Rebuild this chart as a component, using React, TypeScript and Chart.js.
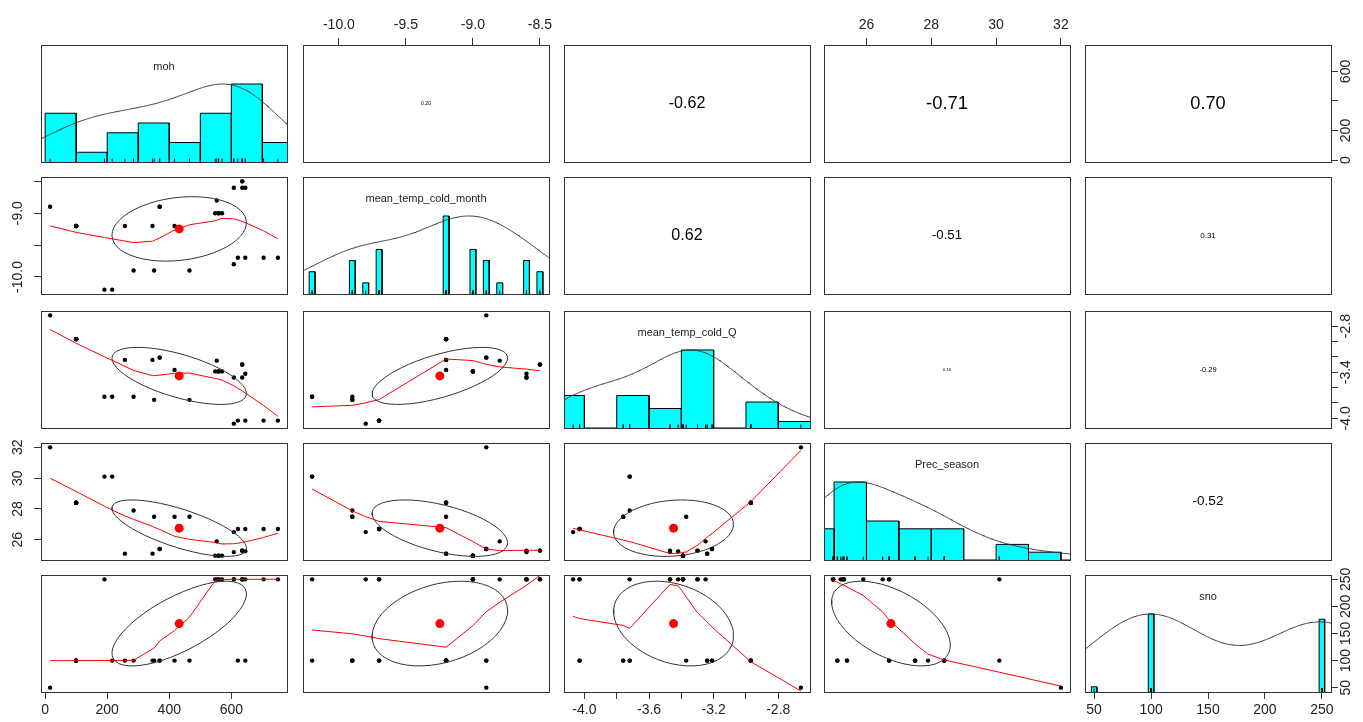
import React, { useEffect, useRef } from 'react';
import { Chart, registerables } from 'chart.js';

Chart.register(...registerables);

// ---------------- Data: 30 observations ----------------
const variableNames = ['moh', 'mean_temp_cold_month', 'mean_temp_cold_Q', 'Prec_season', 'sno'];

const moh = [16, 100, 100, 100, 100, 191, 216, 257, 285, 346, 351, 369, 369, 417, 465, 548, 559, 559, 570, 553, 608, 608, 621, 635, 635, 635, 645, 645, 704, 750];
const meanTempColdMonth = [-8.9, -9.2, -9.2, -9.2, -9.2, -10.2, -10.2, -9.2, -9.9, -9.2, -9.9, -8.9, -8.9, -9.2, -9.9, -9.0, -9.0, -9.0, -9.0, -8.8, -9.8, -8.6, -9.7, -8.5, -8.5, -8.6, -8.6, -9.7, -9.7, -9.7];
const meanTempColdQ = [-2.66, -2.97, -2.97, -2.97, -2.97, -3.72, -3.72, -3.24, -3.72, -3.24, -3.76, -3.21, -3.21, -3.37, -3.76, -3.39, -3.39, -3.39, -3.39, -3.25, -4.07, -3.47, -4.03, -3.3, -3.3, -3.47, -3.42, -4.03, -4.03, -4.03];
const precSeason = [32.0, 28.4, 28.4, 28.4, 28.4, 30.1, 30.1, 25.1, 27.9, 25.1, 27.5, 25.4, 25.4, 27.5, 27.5, 24.97, 24.97, 24.97, 24.97, 25.9, 26.5, 25.2, 26.7, 25.3, 25.3, 25.3, 25.25, 26.7, 26.7, 26.7];
const sno = [50, 100, 100, 100, 100, 250, 100, 100, 100, 100, 100, 100, 100, 100, 100, 250, 250, 250, 250, 250, 250, 250, 100, 250, 250, 250, 250, 100, 250, 250];

// histogram breaks (Sturges / pretty)
const mohBreaks = [0, 100, 200, 300, 400, 500, 600, 700, 800];
const mtcqBreaks = [-4.2, -4.0, -3.8, -3.6, -3.4, -3.2, -3.0, -2.8, -2.6];
const precBreaks = [24, 25, 26, 27, 28, 29, 30, 31, 32, 33];

// axis ticks and the labels that are printed
const mohTicks = [0, 200, 400, 600];
const mtcmTicks = [-10, -9.5, -9, -8.5];
const mtcqTicks = [-4.0, -3.8, -3.6, -3.4, -3.2, -3.0, -2.8];
const precTicks = [26, 28, 30, 32];
const snoTicks = [50, 100, 150, 200, 250];

const mohBottomLabels = [0, 200, 400, 600];
const mohRightLabels = [0, 200, 600];
const mtcmTopLabels = [-10, -9.5, -9, -8.5];
const mtcmLeftLabels = [-10, -9];
const mtcqBottomLabels = [-4.0, -3.6, -3.2, -2.8];
const mtcqRightLabels = [-4.0, -3.4, -2.8];
const precTopLabels = [26, 28, 30, 32];
const precLeftLabels = [26, 28, 30, 32];
const snoBottomLabels = [50, 100, 150, 200, 250];
const snoRightLabels = [50, 100, 150, 200, 250];

// correlations printed in the upper panels (row-major upper triangle)
const corrLabels = ['0.20', '-0.62', '-0.71', '0.70', '0.62', '-0.51', '0.31', '0.16', '-0.29', '-0.52'];

// ---------------- Layout ----------------
const vars = [moh, meanTempColdMonth, meanTempColdQ, precSeason, sno];
const varTicks = [mohTicks, mtcmTicks, mtcqTicks, precTicks, snoTicks];
const decimals = [0, 1, 1, 0, 0];
const histBreaks: (number[] | null)[] = [mohBreaks, null, mtcqBreaks, precBreaks, null];
const bottomLabels: (number[] | null)[] = [mohBottomLabels, null, mtcqBottomLabels, null, snoBottomLabels];
const topLabels: (number[] | null)[] = [null, mtcmTopLabels, null, precTopLabels, null];
const leftLabels: (number[] | null)[] = [null, mtcmLeftLabels, null, precLeftLabels, null];
const rightLabels: (number[] | null)[] = [mohRightLabels, null, mtcqRightLabels, null, snoRightLabels];

const BOX_X = [41, 303, 564, 824, 1085];
const BOX_Y = [45, 177, 311, 443, 575];
const W = 246;
const H = 117;
const M = 40;
const TICK_LEN = 7;
const LEFT_LABEL_OFFSET = 23;
const RIGHT_LABEL_OFFSET = 15;
const DENSITY_ADJUST = 1.4;
const FONT = "'Liberation Sans', Arial, Helvetica, sans-serif";
const LINE = '#333';
const TEXT = '#222';

// ---------------- Stats helpers ----------------
const mean = (a: number[]) => a.reduce((s, v) => s + v, 0) / a.length;
const sd = (a: number[]) => {
  const m = mean(a);
  return Math.sqrt(a.reduce((s, v) => s + (v - m) * (v - m), 0) / (a.length - 1));
};
const cor = (a: number[], b: number[]) => {
  const ma = mean(a), mb = mean(b);
  let sab = 0, saa = 0, sbb = 0;
  for (let i = 0; i < a.length; i++) {
    sab += (a[i] - ma) * (b[i] - mb);
    saa += (a[i] - ma) ** 2;
    sbb += (b[i] - mb) ** 2;
  }
  return sab / Math.sqrt(saa * sbb);
};
const rangeOf = (a: number[]) => {
  const mn = Math.min(...a), mx = Math.max(...a);
  const r = mx - mn;
  return [mn - 0.04 * r, mx + 0.04 * r];
};
const quantile7 = (sorted: number[], p: number) => {
  const h = (sorted.length - 1) * p;
  const lo = Math.floor(h), hi = Math.ceil(h);
  return sorted[lo] + (h - lo) * (sorted[hi] - sorted[lo]);
};
const bwNrd0 = (x: number[]) => {
  const s = sd(x);
  const sorted = [...x].sort((a, b) => a - b);
  const iqr = quantile7(sorted, 0.75) - quantile7(sorted, 0.25);
  let lo = Math.min(s, iqr / 1.34);
  if (!(lo > 0)) lo = s || Math.abs(x[0]) || 1;
  return 0.9 * lo * Math.pow(x.length, -0.2);
};
const densityCurve = (x: number[]) => {
  const bw = bwNrd0(x) * DENSITY_ADJUST;
  const lo = Math.min(...x) - 3 * bw, hi = Math.max(...x) + 3 * bw;
  const N = 512;
  const pts: { x: number; y: number }[] = [];
  for (let k = 0; k < N; k++) {
    const g = lo + ((hi - lo) * k) / (N - 1);
    let s = 0;
    for (const v of x) {
      const z = (g - v) / bw;
      s += Math.exp(-0.5 * z * z);
    }
    pts.push({ x: g, y: s });
  }
  const mx = Math.max(...pts.map((p) => p.y));
  return pts.map((p) => ({ x: p.x, y: p.y / mx }));
};
const histBars = (x: number[], breaks: number[] | null) => {
  const uniq = [...new Set(x)].sort((a, b) => a - b);
  if (uniq.length < 11 || !breaks) {
    const counts = uniq.map((u) => x.filter((v) => v === u).length);
    const mx = Math.max(...counts);
    let minDiff = Infinity;
    for (let k = 1; k < uniq.length; k++) minDiff = Math.min(minDiff, uniq[k] - uniq[k - 1]);
    const ib = (minDiff * (uniq.length - 1)) / 41;
    return uniq.map((u, k) => ({ l: u - ib, r: u + ib, h: counts[k] / mx }));
  }
  const diffs = breaks.slice(1).map((b, k) => b - breaks[k]).sort((a, b) => a - b);
  const diddle = 1e-7 * diffs[Math.floor(diffs.length / 2)];
  const fb = breaks.map((b, k) => (k === 0 ? b - diddle : b + diddle));
  const counts = breaks.slice(1).map((_, k) => x.filter((v) => v > fb[k] && v <= fb[k + 1]).length);
  const mx = Math.max(...counts);
  return counts.map((cnt, k) => ({ l: breaks[k], r: breaks[k + 1], h: cnt / mx }));
};

// R's lowess (clowess port), f = 2/3, iter = 3
function lowess(xIn: number[], yIn: number[], f = 2 / 3, nsteps = 3) {
  const idx = xIn.map((_, i) => i).sort((a, b) => xIn[a] - xIn[b]);
  const x = idx.map((i) => xIn[i]);
  const y = idx.map((i) => yIn[i]);
  const n = x.length;
  const range = x[n - 1] - x[0];
  const delta = 0.01 * range;
  const ys = new Array(n).fill(0);
  const rw = new Array(n).fill(1);
  const res = new Array(n).fill(0);
  const ns = Math.max(2, Math.min(n, Math.floor(f * n + 1e-7)));

  const lowest = (xs: number, nleft: number, nright: number, userw: boolean) => {
    const w = new Array(n).fill(0);
    const h = Math.max(xs - x[nleft], x[nright] - xs);
    const h9 = 0.999 * h, h1 = 0.001 * h;
    let a = 0;
    let j = nleft;
    while (j < n) {
      w[j] = 0;
      const r = Math.abs(x[j] - xs);
      if (r <= h9) {
        if (r <= h1) w[j] = 1;
        else w[j] = Math.pow(1 - Math.pow(r / h, 3), 3);
        if (userw) w[j] *= rw[j];
        a += w[j];
      } else if (x[j] > xs) break;
      j++;
    }
    const nrt = j - 1;
    if (a <= 0) return { ok: false, v: 0 };
    for (j = nleft; j <= nrt; j++) w[j] /= a;
    if (h > 0) {
      a = 0;
      for (j = nleft; j <= nrt; j++) a += w[j] * x[j];
      let b = xs - a;
      let c = 0;
      for (j = nleft; j <= nrt; j++) c += w[j] * (x[j] - a) * (x[j] - a);
      if (Math.sqrt(c) > 0.001 * range) {
        b /= c;
        for (j = nleft; j <= nrt; j++) w[j] *= b * (x[j] - a) + 1;
      }
    }
    let v = 0;
    for (j = nleft; j <= nrt; j++) v += w[j] * y[j];
    return { ok: true, v };
  };

  let iter = 1;
  while (iter <= nsteps + 1) {
    let nleft = 0, nright = ns - 1, last = -1, i = 0;
    for (;;) {
      if (nright < n - 1) {
        const d1 = x[i] - x[nleft];
        const d2 = x[nright + 1] - x[i];
        if (d1 > d2) {
          nleft++;
          nright++;
          continue;
        }
      }
      const rr = lowest(x[i], nleft, nright, iter > 1);
      ys[i] = rr.ok ? rr.v : y[i];
      if (last < i - 1) {
        const denom = x[i] - x[last];
        for (let j = last + 1; j < i; j++) {
          const alpha = (x[j] - x[last]) / denom;
          ys[j] = alpha * ys[i] + (1 - alpha) * ys[last];
        }
      }
      last = i;
      const cut = x[last] + delta;
      for (i = last + 1; i < n; i++) {
        if (x[i] > cut) break;
        if (x[i] === x[last]) {
          ys[i] = ys[last];
          last = i;
        }
      }
      i = Math.max(last + 1, i - 1);
      if (last >= n - 1) break;
    }
    for (let k = 0; k < n; k++) res[k] = y[k] - ys[k];
    let sc = 0;
    for (let k = 0; k < n; k++) sc += Math.abs(res[k]);
    sc /= n;
    if (iter > nsteps) break;
    const sorted = res.map((v) => Math.abs(v)).sort((a, b) => a - b);
    const m1 = Math.floor(n / 2);
    let cmad;
    if (n % 2 === 0) {
      const m2 = n - m1 - 1;
      cmad = 3 * (sorted[m1] + sorted[m2]);
    } else cmad = 6 * sorted[m1];
    if (cmad < 1e-7 * sc) break;
    const c9 = 0.999 * cmad, c1 = 0.001 * cmad;
    for (let k = 0; k < n; k++) {
      const r = Math.abs(res[k]);
      if (r <= c1) rw[k] = 1;
      else if (r <= c9) rw[k] = Math.pow(1 - Math.pow(r / cmad, 2), 2);
      else rw[k] = 0;
    }
    iter++;
  }
  return x.map((xv, k) => ({ x: xv, y: ys[k] }));
}

// psych::draw.ellipse (1 sd)
function ellipsePts(xs: number[], ys: number[]) {
  const xm = mean(xs), ym = mean(ys), sx = sd(xs), sy = sd(ys), r = cor(xs, ys);
  const theta = r !== 0 ? Math.sign(r) / Math.SQRT2 : 1 / Math.SQRT2;
  const a = Math.sqrt(1 + r), b = Math.sqrt(1 - r);
  const pts: { x: number; y: number }[] = [];
  const seg = 51;
  for (let k = 0; k <= seg; k++) {
    const ang = (k * 2 * Math.PI) / seg;
    const c = Math.cos(ang), s = Math.sin(ang);
    const ex = c * a * theta - s * b * theta;
    const ey = c * a * theta + s * b * theta;
    pts.push({ x: xm + ex * sx, y: ym + ey * sy });
  }
  return pts;
}

let measureCtx: CanvasRenderingContext2D | null = null;
const measure = (txt: string) => {
  if (!measureCtx) {
    measureCtx = document.createElement('canvas').getContext('2d');
  }
  measureCtx!.font = `normal 14px ${FONT}`;
  return measureCtx!.measureText(txt).width;
};

function axisScale(pos: string, vi: number, labels: number[]) {
  const vertical = pos === 'left' || pos === 'right';
  const rng = rangeOf(vars[vi]);
  const ticksArr = varTicks[vi];
  const fmt = (v: number) => v.toFixed(decimals[vi]);
  const labelSet = new Set(labels);
  let pad: number;
  if (vertical) {
    const widest = Math.max(...labels.map((v) => measure(fmt(v))));
    const center = pos === 'left' ? LEFT_LABEL_OFFSET : RIGHT_LABEL_OFFSET;
    pad = center - TICK_LEN - widest / 2;
  } else {
    pad = pos === 'top' ? 4.5 : 2.5;
  }
  return {
    type: 'linear',
    position: pos,
    min: rng[0],
    max: rng[1],
    bounds: 'data',
    grid: { display: true, drawOnChartArea: false, drawTicks: true, tickLength: TICK_LEN, color: LINE, lineWidth: 1 },
    border: { display: true, color: LINE, width: 1 },
    ticks: {
      autoSkip: false,
      minRotation: vertical ? 90 : 0,
      maxRotation: vertical ? 90 : 0,
      crossAlign: vertical ? 'center' : 'near',
      padding: pad,
      color: TEXT,
      font: { family: FONT, size: 14 },
      callback: (v: number) => (labelSet.has(v) ? fmt(v) : ''),
    },
    afterBuildTicks: (s: any) => {
      s.ticks = ticksArr.map((v) => ({ value: v }));
    },
    afterFit: (s: any) => {
      if (vertical) s.width = M;
      else s.height = M;
    },
  };
}

function corrIndex(r: number, c: number) {
  let k = 0;
  for (let i = 0; i < 5; i++)
    for (let j = i + 1; j < 5; j++) {
      if (i === r && j === c) return k;
      k++;
    }
  return -1;
}

function buildConfig(r: number, c: number) {
  const xr = rangeOf(vars[c]);
  const diag = r === c;
  const upper = r < c;
  const yr = diag ? [0, 1.5] : rangeOf(vars[r]);
  const scales: any = {
    x: { type: 'linear', display: false, min: xr[0], max: xr[1], bounds: 'data' },
    y: { type: 'linear', display: false, min: yr[0], max: yr[1], bounds: 'data' },
  };
  const padding = { left: M, right: M, top: M, bottom: M };
  if (r === 4 && bottomLabels[c]) {
    scales.axB = axisScale('bottom', c, bottomLabels[c]!);
    padding.bottom = 0;
  }
  if (r === 0 && topLabels[c]) {
    scales.axT = axisScale('top', c, topLabels[c]!);
    padding.top = 0;
  }
  if (c === 0 && leftLabels[r]) {
    scales.axL = axisScale('left', r, leftLabels[r]!);
    padding.left = 0;
  }
  if (c === 4 && rightLabels[r]) {
    scales.axR = axisScale('right', r, rightLabels[r]!);
    padding.right = 0;
  }

  const datasets: any[] = [];
  if (diag) {
    const x = vars[c];
    const rugY = (1.75 / H) * 1.5;
    datasets.push({
      type: 'scatter',
      data: x.map((v) => ({ x: v, y: rugY })),
      pointStyle: 'line',
      rotation: 90,
      pointRadius: 1.75,
      pointHoverRadius: 1.75,
      borderColor: '#000',
      borderWidth: 1,
      xAxisID: 'x',
      yAxisID: 'y',
    });
    datasets.push({
      type: 'line',
      data: densityCurve(x),
      borderColor: '#333',
      borderWidth: 1,
      pointRadius: 0,
      fill: false,
      xAxisID: 'x',
      yAxisID: 'y',
    });
    for (const b of histBars(x, histBreaks[c])) {
      datasets.push({
        type: 'line',
        data: [
          { x: b.l, y: 0 },
          { x: b.l, y: b.h },
          { x: b.r, y: b.h },
          { x: b.r, y: 0 },
        ],
        borderColor: '#000',
        borderWidth: 1,
        backgroundColor: '#00FFFF',
        fill: 'origin',
        pointRadius: 0,
        xAxisID: 'x',
        yAxisID: 'y',
      });
    }
  } else if (!upper) {
    const xs = vars[c], ys = vars[r];
    datasets.push({
      type: 'scatter',
      data: [{ x: mean(xs), y: mean(ys) }],
      pointRadius: 4.5,
      pointHoverRadius: 4.5,
      backgroundColor: '#FF0000',
      borderWidth: 0,
      xAxisID: 'x',
      yAxisID: 'y',
    });
    datasets.push({
      type: 'line',
      data: ellipsePts(xs, ys),
      borderColor: '#333',
      borderWidth: 1,
      pointRadius: 0,
      fill: false,
      xAxisID: 'x',
      yAxisID: 'y',
    });
    datasets.push({
      type: 'line',
      data: lowess(xs, ys),
      borderColor: '#FF0000',
      borderWidth: 1,
      pointRadius: 0,
      fill: false,
      xAxisID: 'x',
      yAxisID: 'y',
    });
    datasets.push({
      type: 'scatter',
      data: xs.map((v, k) => ({ x: v, y: ys[k] })),
      pointRadius: 2.2,
      pointHoverRadius: 2.2,
      backgroundColor: '#000',
      borderWidth: 0,
      xAxisID: 'x',
      yAxisID: 'y',
    });
  }

  const deco = {
    id: 'deco',
    afterDatasetsDraw(chart: any) {
      const { ctx, chartArea: a } = chart;
      ctx.save();
      ctx.strokeStyle = LINE;
      ctx.lineWidth = 1;
      ctx.strokeRect(Math.round(a.left) + 0.5, Math.round(a.top) + 0.5, Math.round(a.width), Math.round(a.height));
      ctx.fillStyle = TEXT;
      ctx.textAlign = 'center';
      ctx.textBaseline = 'middle';
      if (diag) {
        ctx.font = `11px ${FONT}`;
        ctx.fillText(variableNames[c], (a.left + a.right) / 2, a.top + 21.5);
      }
      if (upper) {
        const txt = corrLabels[corrIndex(r, c)];
        const size = Math.max(4, 26 * Math.abs(parseFloat(txt)));
        ctx.fillStyle = '#000';
        ctx.font = `${size}px ${FONT}`;
        ctx.fillText(txt, (a.left + a.right) / 2, (a.top + a.bottom) / 2);
      }
      ctx.restore();
    },
  };

  return {
    type: 'scatter',
    data: { datasets },
    options: {
      responsive: false,
      maintainAspectRatio: false,
      animation: false,
      events: [],
      layout: { padding },
      scales,
      plugins: { legend: { display: false }, tooltip: { enabled: false } },
    },
    plugins: [deco],
  } as any;
}

function Panel({ r, c }: { r: number; c: number }) {
  const ref = useRef<HTMLCanvasElement>(null);
  useEffect(() => {
    if (!ref.current) return;
    const chart = new Chart(ref.current, buildConfig(r, c));
    return () => chart.destroy();
  }, [r, c]);
  return (
    <canvas
      ref={ref}
      width={W + 2 * M}
      height={H + 2 * M}
      style={{ position: 'absolute', left: BOX_X[c] - M, top: BOX_Y[r] - M, width: W + 2 * M, height: H + 2 * M }}
    />
  );
}

export default function App() {
  const panels = [];
  for (let r = 0; r < 5; r++) for (let c = 0; c < 5; c++) panels.push(<Panel key={`${r}-${c}`} r={r} c={c} />);
  return (
    <div style={{ position: 'fixed', left: 0, top: 0, width: 1363, height: 722, background: '#fff', overflow: 'hidden' }}>
      {panels}
    </div>
  );
}
